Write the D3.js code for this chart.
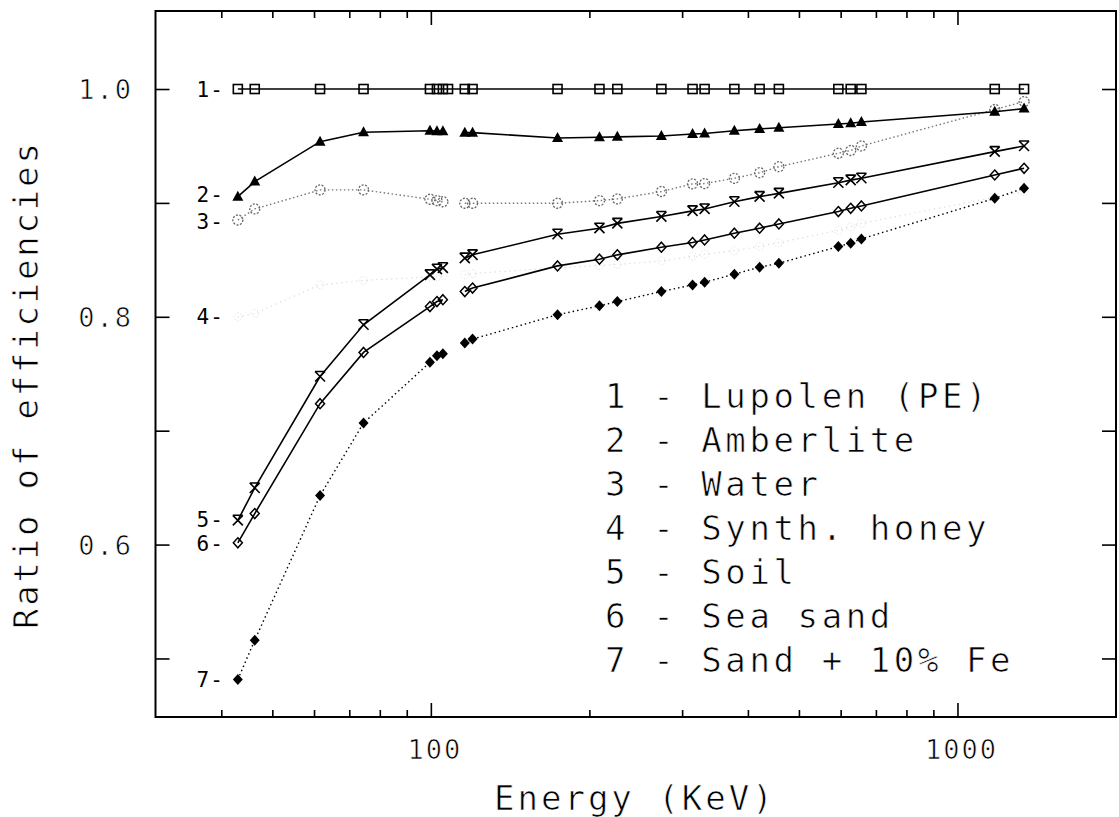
<!DOCTYPE html>
<html><head><meta charset="utf-8">
<script src="https://cdn.jsdelivr.net/npm/d3@7"></script>
<style>
body{margin:0;background:#fff}
svg{display:block}
text{font-family:"DejaVu Sans Mono",monospace;fill:#000}
text.thin{stroke:#fff;stroke-width:0.7px}
</style>
</head><body>
<svg id="c" width="1119" height="817"></svg>
<script>
// ---- data ----
const energies = [43, 46.3, 61.6, 74.5, 99.6, 102.7, 105.4, 107.8, 116, 120, 174, 209, 226, 274, 314, 331, 377, 421, 458, 594, 627, 657, 1177, 1338];
const lupolen  = [1,1,1,1,1,1,1,1,1,1,1,1,1,1,1,1,1,1,1,1,1,1,1,1];
const amberlite= [0.9055,0.9187,0.9538,0.962,0.9634,0.963,0.963,null,0.9617,0.9617,0.957,0.9576,0.958,0.9588,0.9605,0.961,0.9634,0.965,0.966,0.9693,0.970,0.971,0.980,0.9828];
const water    = [0.885,0.8947,0.9114,0.9114,0.9032,0.902,0.901,null,0.8997,0.8997,0.8997,0.902,0.9035,0.910,0.9167,0.917,0.9216,0.9265,0.9318,0.9436,0.946,0.950,0.982,0.989];
const honey    = [0.800,0.803,0.828,0.832,0.835,0.835,0.836,null,0.837,0.838,0.843,0.845,0.846,0.849,0.853,0.855,0.858,0.862,0.865,0.876,0.879,0.882,0.905,0.910];
const soil     = [0.6213,0.6497,0.7476,0.793,0.8368,0.8418,0.843,null,0.8515,0.8544,0.8725,0.8778,0.882,0.888,0.893,0.8947,0.901,0.9055,0.9084,0.9177,0.920,0.9216,0.945,0.950];
const seaSand  = [0.6015,0.6272,0.7237,0.7687,0.809,0.8134,0.815,null,0.8222,0.8252,0.8447,0.8506,0.8544,0.8611,0.8652,0.8675,0.8734,0.8778,0.8815,0.8924,0.8953,0.8973,0.9245,0.9304];
const sandFe   = [0.4816,0.516,0.643,0.7067,0.760,0.7658,0.7675,null,0.777,0.7804,0.8018,0.8096,0.8134,0.8222,0.828,0.8304,0.8374,0.8436,0.847,0.8617,0.8646,0.8684,0.904,0.9129];
const seriesNames = ["Lupolen (PE)","Amberlite","Water","Synth. honey","Soil","Sea sand","Sand + 10% Fe"];
const yTicks = [0.5,0.6,0.7,0.8,0.9,1.0];
const yTickLabels = ["0.6","0.8","1.0"];
const xMajorTicks = [100,1000];
const xMinorTicks = [40,50,60,70,80,90,200,300,400,500,600,700,800,900];
const xTitle = "Energy (KeV)";
const yTitle = "Ratio of efficiencies";

// ---- layout ----
const svg = d3.select("#c");
const L=155.5, R=1116, T=11, B=717;
const x = d3.scaleLog().domain([30,2000]).range([L,R]);
const y = d3.scaleLinear().domain([0.4486,1.0685]).range([B,T]);

const allSeries = [lupolen, amberlite, water, honey, soil, seaSand, sandFe];
const styles = [
  {stroke:"#000", width:1.6, dash:null, marker:"square"},
  {stroke:"#000", width:1.6, dash:null, marker:"triangle"},
  {stroke:"#777", width:1.4, dash:"1.5,2.5", marker:"circle"},
  {stroke:"#d2d2d2", width:1.2, dash:"1,4", marker:"faint"},
  {stroke:"#000", width:1.6, dash:null, marker:"hourglass"},
  {stroke:"#000", width:1.6, dash:null, marker:"diamond"},
  {stroke:"#000", width:1.4, dash:"1.5,3", marker:"fdiamond"}
];
// small vertical nudges of the "N-" labels so they do not collide
const labelNudge = [0,-2,2,0,-1,1,0];

// axes (ticks inward)
function strip(g){ g.select(".domain").remove(); g.selectAll("text").remove(); g.selectAll("line").attr("stroke","#000").attr("stroke-width",1.6); }
svg.append("g").attr("transform",`translate(0,${B})`).call(d3.axisBottom(x).tickValues(xMinorTicks).tickSize(-7)).call(strip);
svg.append("g").attr("transform",`translate(0,${B})`).call(d3.axisBottom(x).tickValues(xMajorTicks).tickSize(-14)).call(strip);
svg.append("g").attr("transform",`translate(0,${T})`).call(d3.axisTop(x).tickValues(xMinorTicks).tickSize(-7)).call(strip);
svg.append("g").attr("transform",`translate(0,${T})`).call(d3.axisTop(x).tickValues(xMajorTicks).tickSize(-14)).call(strip);
svg.append("g").attr("transform",`translate(${L},0)`).call(d3.axisLeft(y).tickValues(yTicks).tickSize(-14)).call(strip);
svg.append("g").attr("transform",`translate(${R},0)`).call(d3.axisRight(y).tickValues(yTicks).tickSize(-14)).call(strip);

svg.append("rect").attr("x",L).attr("y",T).attr("width",R-L).attr("height",B-T)
  .attr("fill","none").attr("stroke","#000").attr("stroke-width",2);

// tick labels
svg.selectAll(".yl").data(yTickLabels).join("text").attr("class","thin")
  .attr("x",133).attr("y",d=>y(+d)+10).attr("text-anchor","end")
  .attr("font-size",27).attr("letter-spacing",2).text(d=>d);
svg.selectAll(".xl").data(xMajorTicks).join("text").attr("class","thin")
  .attr("x",d=>x(d)+4).attr("y",759).attr("text-anchor","middle")
  .attr("font-size",27).attr("letter-spacing",2).text(d=>String(d));

// titles
svg.append("text").attr("class","thin").attr("x",494).attr("y",810).attr("font-size",34).attr("letter-spacing",3).text(xTitle);
svg.append("text").attr("class","thin").attr("transform","translate(38,629) rotate(-90)").attr("font-size",34).attr("letter-spacing",2.8).text(yTitle);

// series lines & markers
const line = d3.line().defined(d=>d[1]!=null).x(d=>x(d[0])).y(d=>y(d[1]));
function marker(g, type, cx, cy){
  const s = g.append("g").attr("transform",`translate(${cx},${cy})`);
  if(type==="square") s.append("rect").attr("x",-4.5).attr("y",-4.5).attr("width",9).attr("height",9).attr("fill","none").attr("stroke","#000").attr("stroke-width",1.6);
  else if(type==="triangle") s.append("path").attr("d","M0,-6L5.5,4L-5.5,4Z").attr("fill","#000");
  else if(type==="circle") s.append("circle").attr("r",5).attr("fill","none").attr("stroke","#666").attr("stroke-width",1.3).attr("stroke-dasharray","2,1.5");
  else if(type==="faint") s.append("circle").attr("r",4).attr("fill","none").attr("stroke","#dadada").attr("stroke-width",1).attr("stroke-dasharray","1,2");
  else if(type==="hourglass") s.append("path").attr("d","M-5,-5L5,-5M-5,-5L5,5M5,-5L-5,5").attr("fill","none").attr("stroke","#000").attr("stroke-width",1.6);
  else if(type==="diamond") s.append("path").attr("d","M0,-5L4.5,0L0,5L-4.5,0Z").attr("fill","none").attr("stroke","#000").attr("stroke-width",1.5);
  else if(type==="fdiamond") s.append("path").attr("d","M0,-5.5L5,0L0,5.5L-5,0Z").attr("fill","#000");
}
const order = [3,2,6,5,4,1,0];
order.forEach(i=>{
  const vals = allSeries[i], st = styles[i];
  const pts = energies.map((e,k)=>[e, vals[k]]);
  const g = svg.append("g");
  g.append("path").datum(pts).attr("d",line).attr("fill","none").attr("stroke",st.stroke)
    .attr("stroke-width",st.width).attr("stroke-dasharray",st.dash);
  pts.filter(p=>p[1]!=null).forEach(p=>marker(g, st.marker, x(p[0]), y(p[1])));
  // "N-" label at series start
  svg.append("text").attr("x",x(energies[0])-14).attr("y",y(vals[0])+7.5+labelNudge[i]).attr("text-anchor","end")
    .attr("font-size",21).attr("letter-spacing",1).text((i+1)+"-");
});

// legend
seriesNames.forEach((n,i)=>{
  svg.append("text").attr("class","thin").attr("x",605).attr("y",408+i*44).attr("font-size",34).attr("letter-spacing",3.6)
    .attr("xml:space","preserve").style("white-space","pre").text(`${i+1} - ${n}`);
});
</script>
</body></html>
